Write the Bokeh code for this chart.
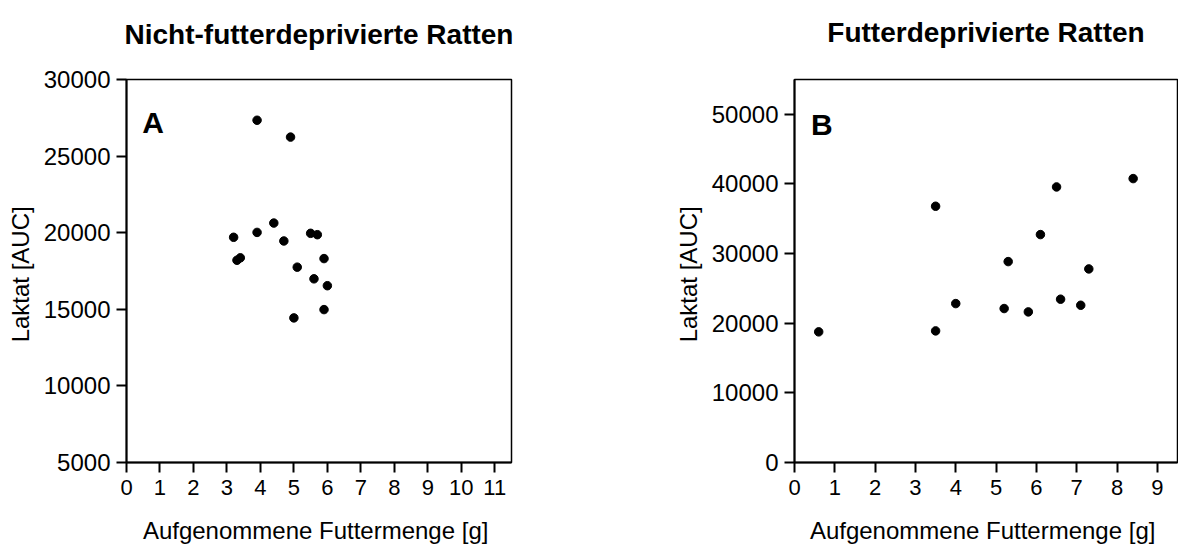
from bokeh.plotting import figure
from bokeh.models import FixedTicker, Range1d, Label, LinearAxis
from bokeh.layouts import row
from bokeh.embed import file_html
from bokeh.resources import INLINE

# ---- data ----
a_title = "Nicht-futterdeprivierte Ratten"
b_title = "Futterdeprivierte Ratten"
x_label = "Aufgenommene Futtermenge  [g]"
y_label = "Laktat  [AUC]"

a_x = [3.9, 4.9, 4.4, 3.2, 3.9, 4.7, 5.5, 5.7, 3.3, 3.4, 5.9, 5.1, 5.6, 6.0, 5.9, 5.0]
a_y = [27340, 26240, 20630, 19700, 20020, 19460, 19960, 19870, 18200, 18360,
       18310, 17750, 16990, 16540, 14980, 14440]

b_x = [0.6, 3.5, 3.5, 4.0, 5.2, 5.3, 5.8, 6.1, 6.5, 6.6, 7.1, 7.3, 8.4]
b_y = [18760, 36800, 18900, 22820, 22110, 28850, 21630, 32730, 39570, 23450,
       22580, 27800, 40770]

a_xticks = list(range(0, 12))
a_yticks = [5000, 10000, 15000, 20000, 25000, 30000]
b_xticks = list(range(0, 10))
b_yticks = [0, 10000, 20000, 30000, 40000, 50000]

FONT = "Liberation Sans"


def make_fig(width, height, xr, yr, xticks, yticks, title, borders, title_gap):
    bl, br, bt, bb = borders
    p = figure(width=width, height=height,
               x_range=Range1d(*xr), y_range=Range1d(*yr),
               output_backend="svg", toolbar_location=None,
               min_border_left=bl, min_border_right=br,
               min_border_top=bt, min_border_bottom=bb,
               background_fill_color="white", border_fill_color="white")
    xa, ya = p.below[0], p.left[0]

    # invisible spacer axis between the title and the frame
    spacer = LinearAxis(ticker=FixedTicker(ticks=[xticks[1]]), axis_line_color=None,
                        major_tick_out=title_gap, major_tick_in=0,
                        major_tick_line_color=None, minor_tick_line_color=None,
                        minor_tick_out=0, minor_tick_in=0,
                        major_label_standoff=0, major_label_text_color=None,
                        major_label_text_font_size="1px")
    p.add_layout(spacer, "above")

    p.title.text = title
    p.title.align = "center"
    p.title.text_font = FONT
    p.title.text_font_size = "28px"
    p.title.text_font_style = "bold"
    p.title.text_color = "black"
    p.title.standoff = 10

    p.xgrid.visible = False
    p.ygrid.visible = False
    p.outline_line_color = "black"
    p.outline_line_width = 1.5
    p.outline_line_alpha = 1.0

    xa.ticker = FixedTicker(ticks=xticks)
    ya.ticker = FixedTicker(ticks=yticks)
    for ax in (xa, ya):
        ax.axis_line_color = "black"
        ax.axis_line_width = 2
        ax.major_tick_line_color = "black"
        ax.major_tick_line_width = 2
        ax.major_tick_out = 10
        ax.major_tick_in = 0
        ax.minor_tick_line_color = None
        ax.major_label_text_font = FONT
        ax.major_label_text_color = "black"
        ax.axis_label_text_font = FONT
        ax.axis_label_text_font_style = "normal"
        ax.axis_label_text_font_size = "24px"
        ax.axis_label_text_color = "black"
    xa.major_label_text_font_size = "22px"
    ya.major_label_text_font_size = "24px"
    xa.major_label_standoff = 7
    ya.major_label_standoff = 6
    xa.axis_label = x_label
    xa.axis_label_standoff = 19
    ya.axis_label = y_label
    ya.axis_label_standoff = 7
    return p


def add_text(p, x, y, text):
    p.add_layout(Label(x=x, y=y, text=text, text_font=FONT, text_font_size="30px",
                       text_font_style="bold", text_align="left",
                       text_baseline="alphabetic", text_color="black"))


# left panel: frame 126..511 x 77..462 (window px)
p1 = make_fig(600, 550, (0, 11.5), (5000, 30000), a_xticks, a_yticks,
              a_title, (126, 89, 77, 88), 25)
p1.scatter(a_x, a_y, size=8.5, color="black")
add_text(p1, 0.47, 27210, "A")

# right panel: frame 794..1177 x 79..462 (window px)
p2 = make_fig(578, 550, (0, 9.5), (0, 55000), b_xticks, b_yticks,
              b_title, (194, 1, 79, 88), 27)
p2.scatter(b_x, b_y, size=8.5, color="black")
add_text(p2, 0.41, 48570, "B")

layout = row(p1, p2)
open("out.html", "w").write(file_html(layout, INLINE))
